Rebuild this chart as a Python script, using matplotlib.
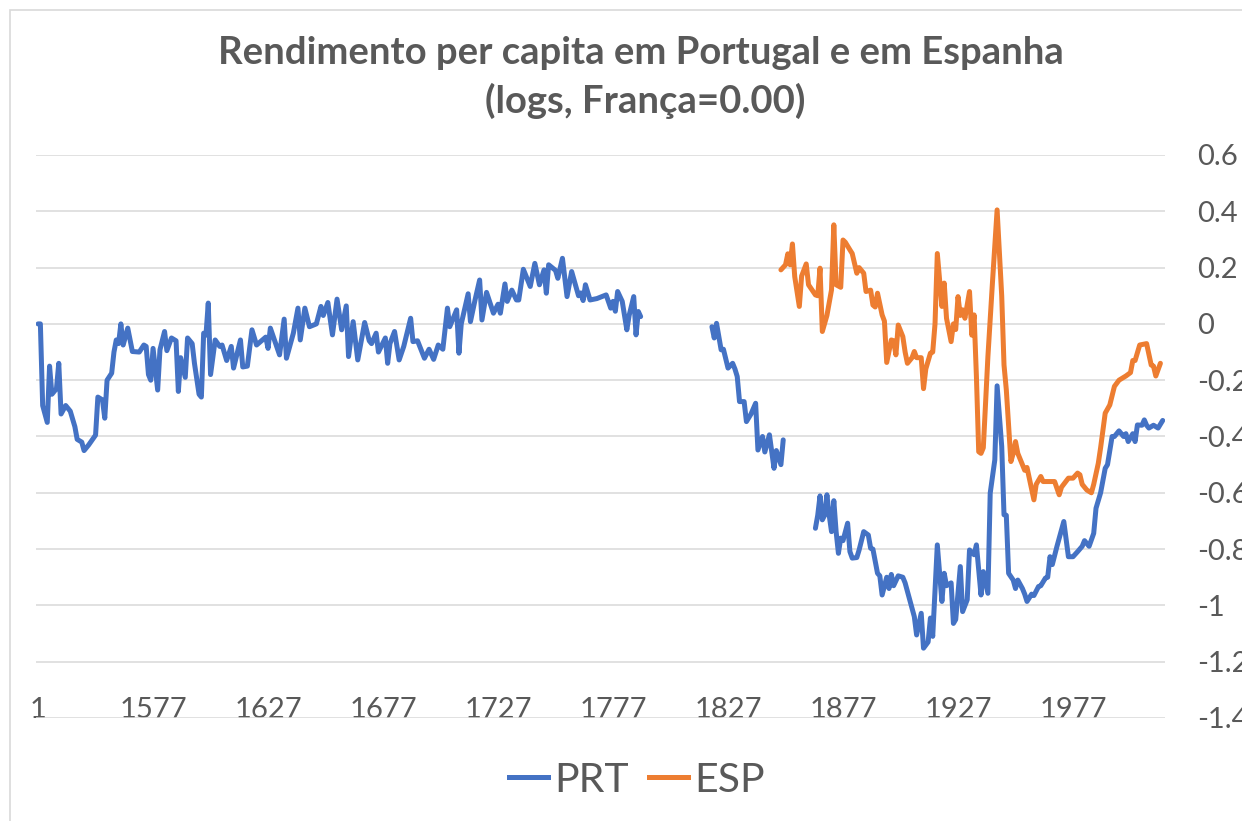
import numpy as np
import matplotlib
matplotlib.use("Agg")
import matplotlib.pyplot as plt
from matplotlib.lines import Line2D
from matplotlib.patches import Rectangle

plt.rcParams['font.family'] = ['Lato', 'DejaVu Sans']

# Portugal (PRT) - gaps marked with nan
prt_year = [1527, 1528, 1529, 1531, 1532, 1533, 1535, 1536, 1537, 1539, 1541, 1543, 1544, 1546, 1547,
            1549, 1552, 1553, 1555, 1556, 1557, 1559, 1560, 1561, 1562, 1563, 1564, 1566, 1568, 1571,
            1573, 1574, 1575, 1576, 1577, 1579, 1580, 1582, 1583, 1585, 1587, 1588, 1589, 1591, 1592,
            1594, 1595, 1597, 1598, 1599, 1600, 1601, 1602, 1604, 1606, 1607, 1609, 1611, 1612, 1615,
            1616, 1618, 1620, 1622, 1626, 1627, 1628, 1632, 1634, 1635, 1638, 1640, 1641, 1643, 1645,
            1648, 1650, 1651, 1653, 1655, 1657, 1659, 1661, 1662, 1664, 1666, 1669, 1671, 1672, 1674,
            1675, 1678, 1679, 1680, 1682, 1684, 1686, 1689, 1690, 1692, 1695, 1697, 1699, 1701, 1703,
            1705, 1706, 1709, 1710, 1711, 1714, 1715, 1717, 1719, 1720, 1722, 1725, 1727, 1728, 1730,
            1731, 1733, 1735, 1736, 1738, 1741, 1743, 1745, 1747, 1748, 1749, 1752, 1753, 1755, 1757,
            1759, 1762, 1763, 1764, 1765, 1767, 1770, 1774, 1776, 1777, 1778, 1779, 1781, 1783, 1784,
            1786, 1787, 1788, 1789,
            1800,
            1820, 1821, 1822, 1824, 1825, 1827, 1829, 1830, 1831, 1832, 1834, 1835, 1837, 1839, 1840,
            1842, 1843, 1845, 1847, 1848, 1850, 1851,
            1858,
            1865, 1866, 1867, 1868, 1869, 1870, 1871, 1872, 1873, 1874, 1875, 1876, 1877, 1879, 1880,
            1881, 1883, 1884, 1886, 1888, 1889, 1890, 1892, 1893, 1894, 1896, 1897, 1898, 1899, 1901,
            1903, 1904, 1906, 1908, 1909, 1911, 1912, 1914, 1915, 1916, 1918, 1920, 1921, 1922, 1924,
            1925, 1926, 1928, 1929, 1931, 1932, 1934, 1935, 1937, 1938, 1940, 1941, 1943, 1944, 1946,
            1947, 1948, 1949, 1951, 1952, 1953, 1955, 1956, 1957, 1959, 1960, 1962, 1963, 1965, 1966,
            1967, 1968, 1970, 1973, 1975, 1977, 1979, 1981, 1982, 1984, 1986, 1987, 1989, 1991, 1992,
            1994, 1995, 1997, 1999, 2000, 2001, 2003, 2004, 2005, 2007, 2008, 2009, 2010, 2012, 2014,
            2016]
prt_val = [0.0, 0.0, -0.29, -0.35, -0.15, -0.25, -0.23, -0.14, -0.32, -0.29, -0.31, -0.365, -0.41, -0.42, -0.45,
           -0.43, -0.395, -0.26, -0.27, -0.335, -0.2, -0.175, -0.10, -0.057, -0.07, 0.0, -0.075, -0.015, -0.098, -0.10,
           -0.075, -0.08, -0.18, -0.20, -0.087, -0.235, -0.092, -0.027, -0.095, -0.05, -0.06, -0.24, -0.12, -0.19, -0.05,
           -0.07, -0.14, -0.25, -0.26, -0.033, -0.04, 0.074, -0.18, -0.057, -0.08, -0.075, -0.13, -0.08, -0.157, -0.057,
           -0.153, -0.15, -0.021, -0.075, -0.047, -0.087, -0.015, -0.11, 0.017, -0.122, -0.033, 0.056, -0.057, 0.056, -0.01,
           0.0, 0.062, 0.03, 0.076, -0.039, 0.088, -0.021, 0.064, -0.116, 0.008, -0.128, 0.005, -0.06, -0.07, -0.033,
           -0.10, -0.05, -0.14, -0.07, -0.027, -0.128, -0.08, 0.02, -0.063, -0.06, -0.122, -0.09, -0.126, -0.075, -0.09,
           0.056, -0.01, 0.05, -0.104, 0.0, 0.107, 0.008, 0.085, 0.156, 0.014, 0.112, 0.038, 0.07, 0.038, 0.142,
           0.08, 0.12, 0.085, 0.085, 0.194, 0.133, 0.215, 0.139, 0.192, 0.109, 0.21, 0.19, 0.162, 0.233, 0.097,
           0.186, 0.10, 0.11, 0.083, 0.139, 0.085, 0.09, 0.103, 0.056, 0.08, 0.045, 0.115, 0.08, -0.021, 0.03,
           0.097, -0.039, 0.044, 0.026,
           np.nan,
           -0.01, -0.05, 0.002, -0.092, -0.09, -0.157, -0.14, -0.16, -0.187, -0.276, -0.276, -0.347, -0.32, -0.282, -0.448,
           -0.40, -0.455, -0.394, -0.513, -0.45, -0.50, -0.412,
           np.nan,
           -0.726, -0.68, -0.611, -0.696, -0.68, -0.607, -0.68, -0.738, -0.628, -0.738, -0.815, -0.761, -0.77, -0.708, -0.809,
           -0.832, -0.83, -0.803, -0.738, -0.75, -0.797, -0.80, -0.886, -0.895, -0.963, -0.90, -0.94, -0.89, -0.93, -0.895,
           -0.90, -0.92, -0.98, -1.04, -1.105, -1.028, -1.152, -1.13, -1.045, -1.11, -0.785, -0.986, -0.886, -0.93, -0.92,
           -1.064, -1.05, -0.862, -1.022, -0.98, -0.803, -0.82, -0.785, -0.963, -0.88, -0.957, -0.601, -0.483, -0.22, -0.435,
           -0.678, -0.68, -0.886, -0.91, -0.94, -0.91, -0.94, -0.96, -0.986, -0.96, -0.965, -0.933, -0.93, -0.903, -0.90,
           -0.827, -0.855, -0.791, -0.702, -0.827, -0.827, -0.809, -0.79, -0.77, -0.79, -0.744, -0.655, -0.60, -0.513, -0.50,
           -0.40, -0.40, -0.38, -0.40, -0.39, -0.418, -0.39, -0.418, -0.359, -0.36, -0.341, -0.36, -0.37, -0.36, -0.37,
           -0.343]

# Spain (ESP)
esp_year = [1850, 1852, 1853, 1854, 1855, 1856, 1858, 1859, 1861, 1862, 1865, 1866, 1867, 1868, 1870,
            1872, 1873, 1874, 1876, 1877, 1878, 1880, 1881, 1883, 1884, 1886, 1887, 1889, 1890, 1891,
            1892, 1894, 1895, 1896, 1898, 1899, 1900, 1901, 1903, 1904, 1905, 1907, 1908, 1909, 1911,
            1912, 1913, 1915, 1916, 1917, 1918, 1920, 1921, 1922, 1924, 1925, 1926, 1927, 1928, 1929,
            1930, 1932, 1933, 1934, 1935, 1936, 1937, 1938, 1940, 1942, 1944, 1946, 1947, 1948, 1950,
            1951, 1952, 1953, 1954, 1955, 1956, 1957, 1960, 1961, 1963, 1964, 1966, 1969, 1971, 1972,
            1975, 1977, 1979, 1980, 1981, 1983, 1985, 1986, 1988, 1989, 1991, 1993, 1995, 1997, 2000,
            2002, 2003, 2004, 2006, 2009, 2011, 2012, 2013, 2015]
esp_val = [0.192, 0.21, 0.249, 0.21, 0.284, 0.168, 0.062, 0.17, 0.213, 0.139, 0.103, 0.10, 0.198, -0.027, 0.03,
           0.121, 0.352, 0.139, 0.13, 0.298, 0.29, 0.263, 0.25, 0.18, 0.20, 0.18, 0.115, 0.12, 0.067, 0.06,
           0.109, 0.032, 0.01, -0.137, -0.057, -0.06, -0.11, -0.004, -0.045, -0.10, -0.14, -0.12, -0.098, -0.12, -0.12,
           -0.23, -0.16, -0.104, -0.10, 0.0, 0.25, 0.062, 0.145, 0.02, -0.063, 0.0, -0.02, 0.097, 0.03, 0.05,
           0.02, 0.115, -0.04, 0.032, -0.187, -0.454, -0.46, -0.44, -0.116, 0.15, 0.405, 0.1, -0.146, -0.234, -0.489,
           -0.46, -0.418, -0.46, -0.48, -0.50, -0.52, -0.51, -0.625, -0.57, -0.542, -0.56, -0.56, -0.56, -0.607, -0.58,
           -0.548, -0.548, -0.53, -0.536, -0.57, -0.59, -0.60, -0.57, -0.495, -0.44, -0.317, -0.288, -0.222, -0.20, -0.185,
           -0.173, -0.13, -0.13, -0.075, -0.07, -0.146, -0.15, -0.185, -0.14]

xtick_pos = [1527, 1577, 1627, 1677, 1727, 1777, 1827, 1877, 1927, 1977]
xtick_lab = ["1", "1577", "1627", "1677", "1727", "1777", "1827", "1877", "1927", "1977"]
ytick_pos = [0.6, 0.4, 0.2, 0, -0.2, -0.4, -0.6, -0.8, -1, -1.2, -1.4]
ytick_lab = ["0.6", "0.4", "0.2", "0", "-0.2", "-0.4", "-0.6", "-0.8", "-1", "-1.2", "-1.4"]

blue = '#4472C4'
orange = '#ED7D31'
txt = '#595959'
grid = '#D9D9D9'

W, H = 1242, 821
fig = plt.figure(figsize=(W / 100, H / 100), dpi=100)
ax = fig.add_axes([36 / W, 1 - 718 / H, (1165 - 36) / W, (718 - 155) / H])

ax.plot(prt_year, prt_val, color=blue, lw=3.6, solid_capstyle='round', solid_joinstyle='round')
ax.plot(esp_year, esp_val, color=orange, lw=3.6, solid_capstyle='round', solid_joinstyle='round')

ax.set_xlim(1526.1, 2017)
ax.set_ylim(-1.4, 0.6)
ax.set_yticks(ytick_pos)
ax.set_yticklabels(ytick_lab)
ax.set_xticks(xtick_pos)
ax.set_xticklabels(xtick_lab)
ax.yaxis.tick_right()
ax.tick_params(axis='y', length=0, pad=23, labelsize=21, labelcolor=txt)
ax.tick_params(axis='x', length=0, pad=-15, labelsize=21, labelcolor=txt)
for s in ax.spines.values():
    s.set_visible(False)
ax.grid(axis='y', color=grid, lw=1.1)
ax.set_axisbelow(True)

# chart border (only top and left edges visible in the crop)
fig.patches.append(Rectangle((10 / W, -0.1), 1.2, 1.1 - 10 / H, transform=fig.transFigure,
                             fill=False, ec=grid, lw=1.2))

fig.text(641 / W, 1 - 53 / H, "Rendimento per capita em Portugal e em Espanha",
         ha='center', va='center', fontsize=27.5, fontweight='bold', color=txt)
fig.text(645 / W, 1 - 101 / H, "(logs, França=0.00)",
         ha='center', va='center', fontsize=27.5, fontweight='bold', color=txt)

handles = [Line2D([], [], color=blue, lw=3.6), Line2D([], [], color=orange, lw=3.6)]
fig.legend(handles, ["PRT", "ESP"], loc='center', bbox_to_anchor=(637 / W, 1 - 780 / H), ncol=2,
           frameon=False, fontsize=29.5, labelcolor=txt, handlelength=0.95, handletextpad=0.15,
           columnspacing=0.5)

fig.savefig("out.png", dpi=100)
